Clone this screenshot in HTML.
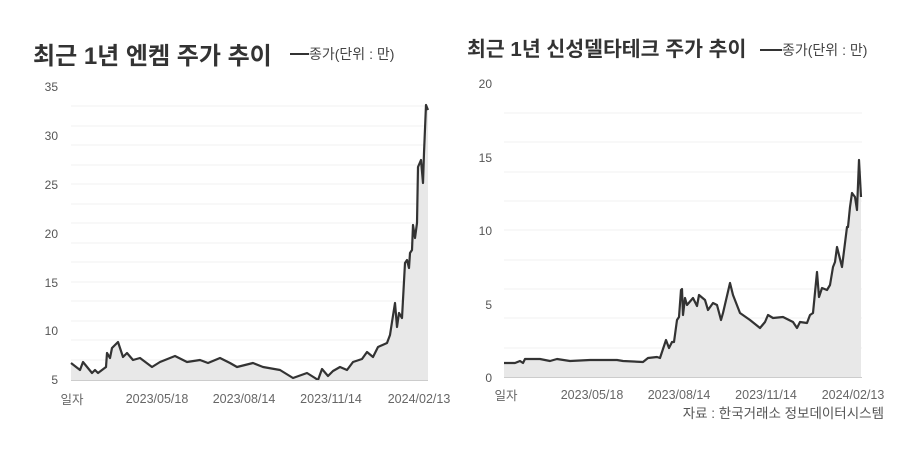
<!DOCTYPE html>
<html><head><meta charset="utf-8"><style>
body{margin:0;background:#fff;}
svg{display:block;font-family:"Liberation Sans","Noto Sans CJK KR",sans-serif;}
</style></head><body>
<svg width="900" height="450" viewBox="0 0 900 450">
<g stroke="#f1f1f1" stroke-width="1">
<line x1="71" x2="428" y1="106" y2="106"/><line x1="71" x2="428" y1="126" y2="126"/><line x1="71" x2="428" y1="145" y2="145"/><line x1="71" x2="428" y1="165" y2="165"/><line x1="71" x2="428" y1="184" y2="184"/><line x1="71" x2="428" y1="204" y2="204"/><line x1="71" x2="428" y1="223" y2="223"/><line x1="71" x2="428" y1="243" y2="243"/><line x1="71" x2="428" y1="262" y2="262"/><line x1="71" x2="428" y1="282" y2="282"/><line x1="71" x2="428" y1="301" y2="301"/><line x1="71" x2="428" y1="321" y2="321"/><line x1="71" x2="428" y1="340" y2="340"/><line x1="71" x2="428" y1="360" y2="360"/>
<line x1="504" x2="862" y1="113" y2="113"/><line x1="504" x2="862" y1="142" y2="142"/><line x1="504" x2="862" y1="172" y2="172"/><line x1="504" x2="862" y1="201" y2="201"/><line x1="504" x2="862" y1="230" y2="230"/><line x1="504" x2="862" y1="260" y2="260"/><line x1="504" x2="862" y1="289" y2="289"/><line x1="504" x2="862" y1="318" y2="318"/><line x1="504" x2="862" y1="348" y2="348"/>
</g>
<polygon fill="#e8e8e8" points="71,380 71,363 80,370 83,362 92,373 95,370 98,373 106,367 107,353 110,358 112,348 118,342 123,357 127,353 133,360 140,358 152,367 160,362 175,356 187,362 200,360 208,363 220,358 230,363 237,367 253,363 263,367 280,370 293,378 307,373 315,378 318,380 322,369 328,376 333,371 340,367 347,370 353,362 362,359 367,352 373,357 378,347 387,343 390,335 392,322 395,303 397,327 399,313 402,318 405,263 407,260 409,268 410,253 412,250 413,225 415,238 417,223 418,167 421,160 423,183 424,153 426,105 428,110 428,380"/>
<polyline fill="none" stroke="#333" stroke-width="2.2" stroke-linejoin="round" points="71,363 80,370 83,362 92,373 95,370 98,373 106,367 107,353 110,358 112,348 118,342 123,357 127,353 133,360 140,358 152,367 160,362 175,356 187,362 200,360 208,363 220,358 230,363 237,367 253,363 263,367 280,370 293,378 307,373 315,378 318,380 322,369 328,376 333,371 340,367 347,370 353,362 362,359 367,352 373,357 378,347 387,343 390,335 392,322 395,303 397,327 399,313 402,318 405,263 407,260 409,268 410,253 412,250 413,225 415,238 417,223 418,167 421,160 423,183 424,153 426,105 428,110"/>
<polygon fill="#e8e8e8" points="504,377 504,363 515,363 520,361 523,363 525,359 540,359 550,361 557,359 570,361 590,360 617,360 623,361 643,362 648,358 657,357 660,358 666,340 669,348 672,342 674,342 677,320 679,317 681,290 682,289 683,315 685,298 687,305 693,298 697,306 699,295 705,300 708,310 713,303 717,305 721,320 723,313 730,283 733,295 740,313 750,320 760,328 765,322 768,315 773,318 783,317 793,322 797,328 800,322 807,323 810,315 813,313 817,272 819,297 822,288 827,290 830,285 833,267 835,262 837,247 842,267 847,227 848,227 850,207 852,193 855,197 857,210 859,160 861,197 861,377"/>
<polyline fill="none" stroke="#333" stroke-width="2.2" stroke-linejoin="round" points="504,363 515,363 520,361 523,363 525,359 540,359 550,361 557,359 570,361 590,360 617,360 623,361 643,362 648,358 657,357 660,358 666,340 669,348 672,342 674,342 677,320 679,317 681,290 682,289 683,315 685,298 687,305 693,298 697,306 699,295 705,300 708,310 713,303 717,305 721,320 723,313 730,283 733,295 740,313 750,320 760,328 765,322 768,315 773,318 783,317 793,322 797,328 800,322 807,323 810,315 813,313 817,272 819,297 822,288 827,290 830,285 833,267 835,262 837,247 842,267 847,227 848,227 850,207 852,193 855,197 857,210 859,160 861,197"/>
<line x1="71" x2="428" y1="380.5" y2="380.5" stroke="#ccc"/>
<line x1="504" x2="862" y1="377.5" y2="377.5" stroke="#ccc"/>
<g fill="#555" font-size="12" text-anchor="end">
<text x="58" y="91">35</text><text x="58" y="140">30</text><text x="58" y="189">25</text><text x="58" y="238">20</text><text x="58" y="287">15</text><text x="58" y="335">10</text><text x="58" y="384">5</text>
<text x="492" y="88">20</text><text x="492" y="162">15</text><text x="492" y="235">10</text><text x="492" y="309">5</text><text x="492" y="382">0</text>
</g>
<g fill="#666" font-size="12.5" text-anchor="middle">
<text x="72" y="404">일자</text><text x="157" y="403">2023/05/18</text><text x="244" y="403">2023/08/14</text><text x="331" y="403">2023/11/14</text><text x="419" y="403">2024/02/13</text>
<text x="506" y="400">일자</text><text x="592" y="399">2023/05/18</text><text x="679" y="399">2023/08/14</text><text x="766" y="399">2023/11/14</text><text x="853" y="399">2024/02/13</text>
</g>
<text x="884" y="418" font-size="13.5" fill="#555" text-anchor="end">자료 : 한국거래소 정보데이터시스템</text>
<text x="33" y="64" font-size="24" font-weight="bold" fill="#333">최근 1년 엔켐 주가 추이</text>
<line x1="290" x2="309" y1="54" y2="54" stroke="#333" stroke-width="2"/>
<text x="309" y="59" font-size="14" fill="#444">종가(단위 : 만)</text>
<text x="467" y="56" font-size="20.5" font-weight="bold" fill="#333">최근 1년 신성델타테크 주가 추이</text>
<line x1="760" x2="782" y1="50" y2="50" stroke="#333" stroke-width="2"/>
<text x="782" y="55" font-size="14" fill="#444">종가(단위 : 만)</text>
</svg>
</body></html>
